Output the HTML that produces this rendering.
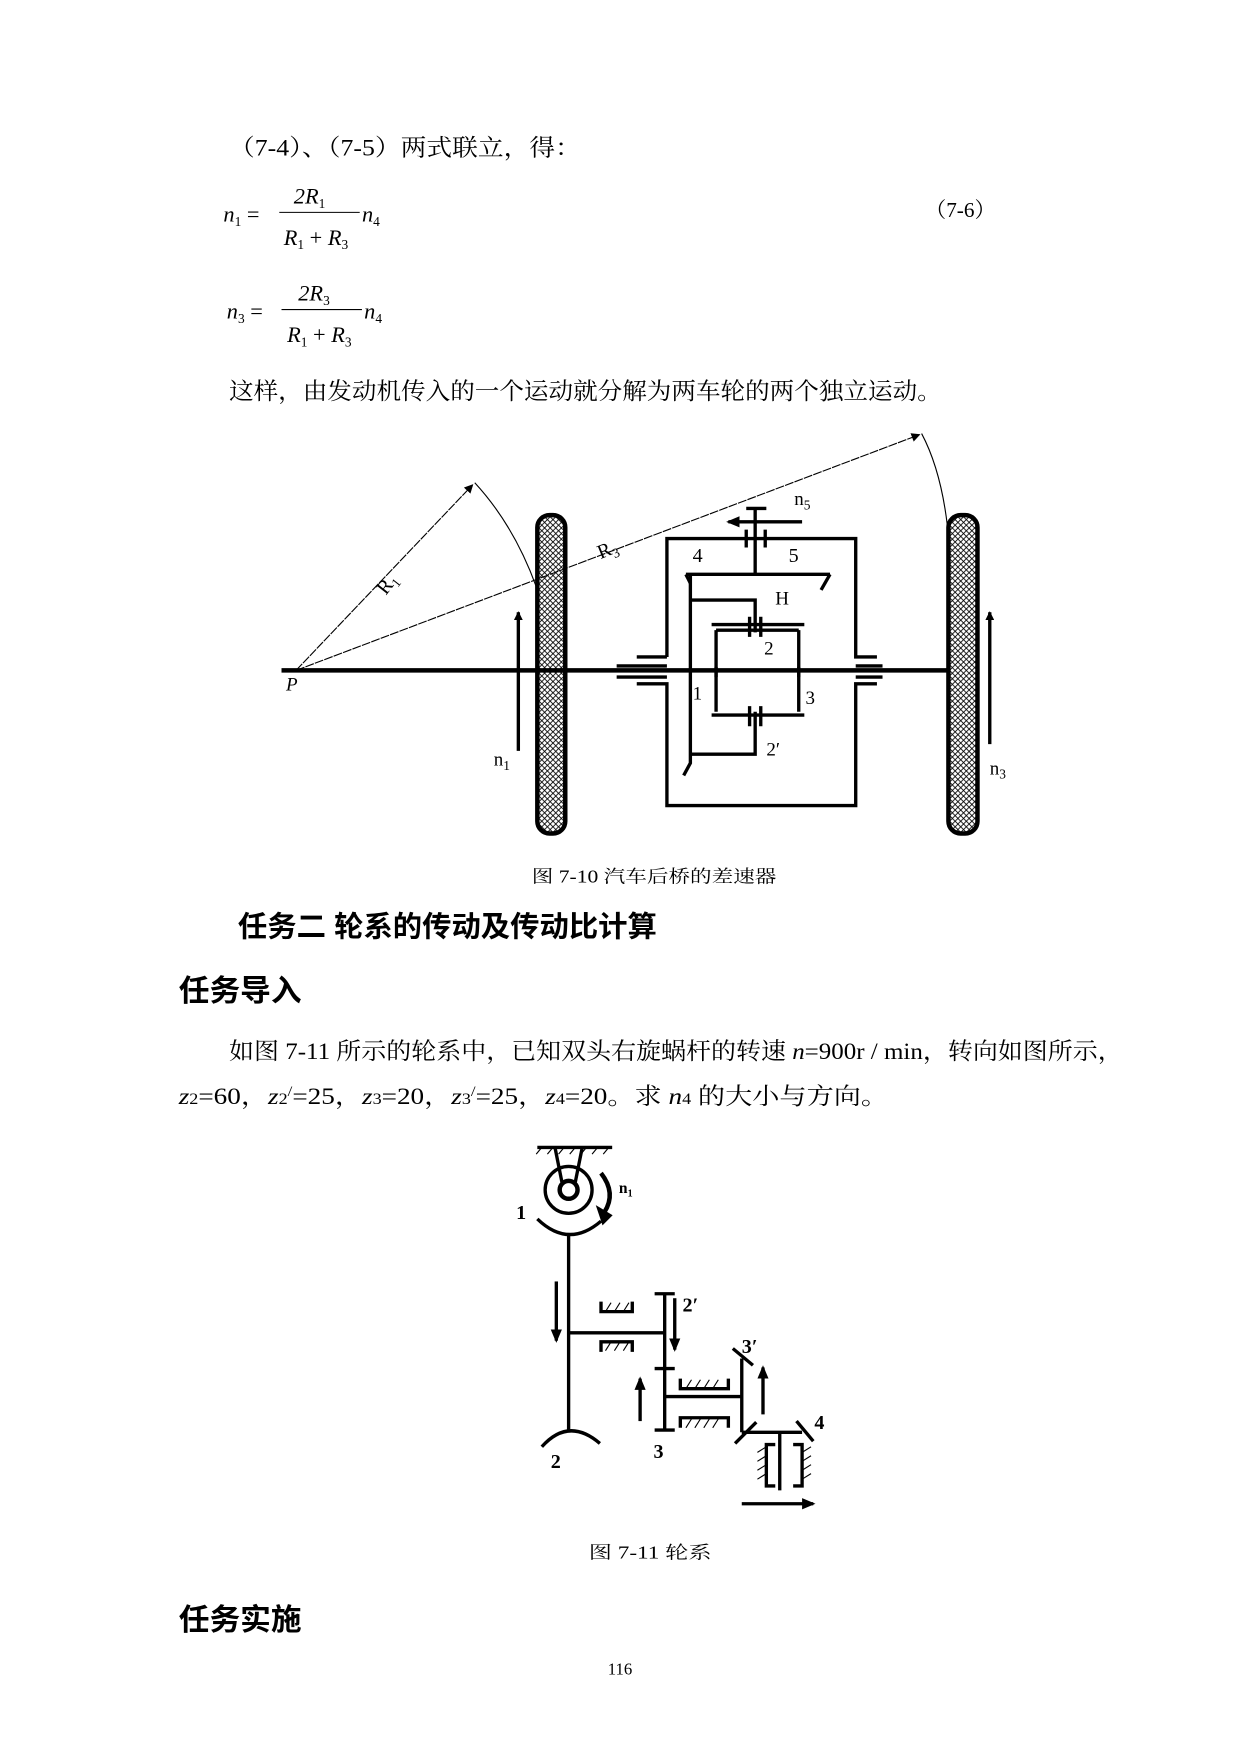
<!DOCTYPE html>
<html><head><meta charset="utf-8"><style>
html,body{margin:0;padding:0;background:#fff;}
svg{display:block;}
text{font-family:"Liberation Serif","Noto Serif CJK SC","Noto Sans CJK SC",serif;fill:#000;}
.h{font-family:"Liberation Sans","Noto Sans CJK SC",sans-serif;font-weight:bold;}
.s{font-family:"Liberation Sans","Noto Sans CJK SC",sans-serif;}
</style></head><body>
<svg width="1240" height="1753" viewBox="0 0 1110 1569" xmlns="http://www.w3.org/2000/svg">
<defs>
<pattern id="x" width="5" height="5" patternUnits="userSpaceOnUse">
<path d="M0 0L5 5M5 0L0 5" stroke="#000" stroke-width="0.8"/>
</pattern>
<marker id="a" markerWidth="8" markerHeight="8" refX="7" refY="4" orient="auto" markerUnits="userSpaceOnUse"><path d="M0 0L8 4L0 8z"/></marker>
<marker id="b" markerWidth="12" markerHeight="10" refX="10" refY="5" orient="auto" markerUnits="userSpaceOnUse"><path d="M0 0L12 5L0 10z"/></marker>
</defs>
<rect width="1110" height="1569" fill="#fff"/>

<text x="205" y="139" font-size="21" textLength="315" lengthAdjust="spacingAndGlyphs">（7-4）、（7-5）两式联立，得：</text>
<g font-size="20" font-style="italic">
<text x="200" y="198">n<tspan font-size="12" dy="4" font-style="normal">1</tspan><tspan dy="-4" font-style="normal"> =</tspan></text>
<text x="263" y="182">2R<tspan font-size="12" dy="4" font-style="normal">1</tspan></text>
<text x="254" y="219">R<tspan font-size="12" dy="4" font-style="normal">1</tspan><tspan dy="-4" font-style="normal"> + </tspan>R<tspan font-size="12" dy="4" font-style="normal">3</tspan></text>
<text x="324" y="198">n<tspan font-size="12" dy="4" font-style="normal">4</tspan></text>
<text x="203" y="285">n<tspan font-size="12" dy="4" font-style="normal">3</tspan><tspan dy="-4" font-style="normal"> =</tspan></text>
<text x="267" y="269">2R<tspan font-size="12" dy="4" font-style="normal">3</tspan></text>
<text x="257" y="306">R<tspan font-size="12" dy="4" font-style="normal">1</tspan><tspan dy="-4" font-style="normal"> + </tspan>R<tspan font-size="12" dy="4" font-style="normal">3</tspan></text>
<text x="326" y="285">n<tspan font-size="12" dy="4" font-style="normal">4</tspan></text>
</g>
<line x1="250" y1="190" x2="322" y2="190" stroke="#000" stroke-width="1"/>
<line x1="252" y1="277" x2="324" y2="277" stroke="#000" stroke-width="1"/>
<text x="828" y="194" font-size="19">（7-6）</text>
<text x="205" y="357" font-size="21" textLength="638" lengthAdjust="spacingAndGlyphs">这样，由发动机传入的一个运动就分解为两车轮的两个独立运动。</text>

<g stroke="#000" fill="none">
<line x1="265" y1="600" x2="423" y2="434" stroke-width="1" stroke-dasharray="8,1" marker-end="url(#a)"/>
<line x1="265" y1="600" x2="823" y2="389" stroke-width="1" stroke-dasharray="8,1" marker-end="url(#a)"/>
<path d="M425 432 Q460 470 480 525" stroke-width="1"/>
<path d="M825 388 Q842 420 848 470" stroke-width="1"/>
<line x1="252" y1="600" x2="850" y2="600" stroke-width="4"/>
<rect x="481" y="461" width="25" height="285" rx="11" fill="url(#x)" stroke-width="4"/>
<rect x="849" y="461" width="26" height="285" rx="11" fill="url(#x)" stroke-width="4"/>
<line x1="464" y1="672" x2="464" y2="548" stroke-width="3" marker-end="url(#a)"/>
<line x1="886" y1="666" x2="886" y2="548" stroke-width="3" marker-end="url(#a)"/>
<g stroke-width="3">
<polyline points="597,588 597,482 766,482 766,588 785,588"/>
<polyline points="570,588 597,588"/>
<polyline points="570,612 597,612 597,721 766,721 766,612 785,612"/>
<line x1="552" y1="596" x2="597" y2="596"/>
<line x1="552" y1="606" x2="597" y2="606"/>
<line x1="766" y1="596" x2="790" y2="596"/>
<line x1="766" y1="606" x2="790" y2="606"/>
<line x1="676" y1="455" x2="676" y2="515"/>
<line x1="668" y1="455" x2="686" y2="455"/>
<line x1="668" y1="474" x2="668" y2="490"/>
<line x1="685" y1="474" x2="685" y2="490"/>
<line x1="718" y1="467" x2="652" y2="467" marker-end="url(#b)"/>
<line x1="614" y1="514" x2="743" y2="514"/>
<line x1="614" y1="514" x2="618" y2="522"/>
<line x1="743" y1="514" x2="735" y2="528"/>
<polyline points="618,515 618,683 612,694"/>
<polyline points="618,537 676,537 676,566"/>
<polyline points="618,675 676,675 676,637"/>
<line x1="637" y1="559" x2="720" y2="559"/>
<line x1="641" y1="564" x2="715" y2="564"/>
<line x1="641" y1="564" x2="641" y2="637"/>
<line x1="715" y1="564" x2="715" y2="637"/>
<line x1="637" y1="640" x2="720" y2="640"/>
<line x1="671" y1="552" x2="671" y2="570"/><line x1="681" y1="552" x2="681" y2="570"/>
<line x1="671" y1="632" x2="671" y2="650"/><line x1="681" y1="632" x2="681" y2="650"/>
<line x1="641" y1="597" x2="641" y2="606"/><line x1="715" y1="597" x2="715" y2="606"/>
</g>
</g>
<g class="s">
<text x="336" y="530" font-size="18" transform="rotate(-52 344 522)" font-family="Liberation Mono">R<tspan font-size="12" dy="4">1</tspan></text>
<text x="535" y="497" font-size="18" transform="rotate(-22 545 492)" font-family="Liberation Mono">R<tspan font-size="12" dy="4">3</tspan></text>
<text x="256" y="618" font-size="17" font-style="italic">P</text>
<text x="711" y="452" font-size="17">n<tspan font-size="12" dy="4">5</tspan></text>
<text x="620" y="503" font-size="18">4</text>
<text x="706" y="503" font-size="18">5</text>
<text x="694" y="541" font-size="17">H</text>
<text x="684" y="586" font-size="17">2</text>
<text x="620" y="626" font-size="17">1</text>
<text x="721" y="630" font-size="17">3</text>
<text x="686" y="676" font-size="17">2′</text>
<text x="442" y="685" font-size="17">n<tspan font-size="12" dy="4">1</tspan></text>
<text x="886" y="693" font-size="17">n<tspan font-size="12" dy="4">3</tspan></text>
</g>
<text x="476" y="790" font-size="16" textLength="219" lengthAdjust="spacingAndGlyphs">图 7-10  汽车后桥的差速器</text>

<text x="213" y="838" font-size="26" class="h" textLength="375" lengthAdjust="spacingAndGlyphs">任务二  轮系的传动及传动比计算</text>
<text x="160" y="896" font-size="27" class="h" textLength="110" lengthAdjust="spacingAndGlyphs">任务导入</text>
<text x="205" y="948" font-size="21" textLength="800" lengthAdjust="spacingAndGlyphs">如图 7-11 所示的轮系中，已知双头右旋蜗杆的转速 <tspan font-style="italic">n</tspan>=900r / min，转向如图所示，</text>
<text x="160" y="988" font-size="21" textLength="635" lengthAdjust="spacingAndGlyphs"><tspan font-style="italic">z</tspan><tspan font-size="14">2</tspan>=60，<tspan font-style="italic">z</tspan><tspan font-size="14">2</tspan><tspan font-size="13" dy="-7">/</tspan><tspan dy="7">=25，</tspan><tspan font-style="italic">z</tspan><tspan font-size="14">3</tspan>=20，<tspan font-style="italic">z</tspan><tspan font-size="14">3</tspan><tspan font-size="13" dy="-7">/</tspan><tspan dy="7">=25，</tspan><tspan font-style="italic">z</tspan><tspan font-size="14">4</tspan>=20。求 <tspan font-style="italic">n</tspan><tspan font-size="14">4</tspan> 的大小与方向。</text>

<g stroke="#000" fill="none" stroke-width="3">
<line x1="481" y1="1027" x2="548" y2="1027"/>
<path d="M485 1027l-5 6M495 1027l-5 6M505 1027l-5 6M515 1027l-5 6M525 1027l-5 6M535 1027l-5 6M545 1027l-5 6" stroke-width="1"/>
<circle cx="509" cy="1065" r="21"/>
<circle cx="509" cy="1065" r="8" stroke-width="4"/>
<line x1="497" y1="1028" x2="503" y2="1058"/>
<line x1="521" y1="1028" x2="515" y2="1058"/>
<path d="M481 1091 Q509 1118 538 1093"/>
<path d="M538 1050 Q552 1068 541 1085" stroke-width="4"/>
<path d="M536 1082 L546 1088 L540 1094z" fill="#000"/>
<line x1="509" y1="1104" x2="509" y2="1281"/>
<path d="M485 1295 Q509 1268 537 1292"/>
<line x1="509" y1="1193" x2="595" y2="1193"/>
<line x1="595" y1="1158" x2="595" y2="1280"/>
<line x1="586" y1="1158" x2="604" y2="1158"/>
<line x1="586" y1="1225" x2="604" y2="1225"/>
<line x1="586" y1="1280" x2="604" y2="1280"/>
<polyline points="538,1165 538,1174 566,1174 566,1165"/>
<polyline points="538,1210 538,1201 566,1201 566,1210"/>
<line x1="594" y1="1250" x2="664" y2="1250"/>
<polyline points="609,1234 609,1243 652,1243 652,1234"/>
<polyline points="609,1278 609,1269 652,1269 652,1278"/>
<line x1="664" y1="1216" x2="664" y2="1282"/>
<line x1="656" y1="1207" x2="674" y2="1222"/>
<line x1="658" y1="1292" x2="677" y2="1273"/>
<line x1="664" y1="1282" x2="718" y2="1282"/>
<line x1="713" y1="1272" x2="728" y2="1290"/>
<line x1="698" y1="1282" x2="698" y2="1334"/>
<polyline points="694,1293 686,1293 686,1330 694,1330"/>
<polyline points="710,1293 718,1293 718,1330 710,1330"/>
<line x1="498" y1="1147" x2="498" y2="1200" marker-end="url(#b)"/>
<line x1="604" y1="1162" x2="604" y2="1208" marker-end="url(#b)"/>
<line x1="573" y1="1272" x2="573" y2="1234" marker-end="url(#b)"/>
<line x1="683" y1="1266" x2="683" y2="1224" marker-end="url(#b)"/>
<line x1="664" y1="1346" x2="728" y2="1346" marker-end="url(#b)"/>
</g>
<g stroke="#000" stroke-width="1" fill="none">
<path d="M542 1174l5 -8M550 1174l5 -8M558 1174l5 -8M542 1209l5 -8M550 1209l5 -8M558 1209l5 -8"/>
<path d="M614 1243l5 -8M622 1243l5 -8M630 1243l5 -8M638 1243l5 -8M614 1278l5 -8M622 1278l5 -8M630 1278l5 -8M638 1278l5 -8"/>
<path d="M678 1300l8 -5M678 1308l8 -5M678 1316l8 -5M678 1324l8 -5M718 1300l8 -5M718 1308l8 -5M718 1316l8 -5M718 1324l8 -5"/>
</g>
<g font-size="18" font-weight="bold" font-family="Liberation Serif">
<text x="462" y="1091">1</text>
<text x="554" y="1068" font-size="14">n<tspan font-size="9" dy="3">1</tspan></text>
<text x="493" y="1314">2</text>
<text x="611" y="1174">2′</text>
<text x="585" y="1305">3</text>
<text x="664" y="1211">3′</text>
<text x="729" y="1279">4</text>
</g>
<text x="527" y="1395" font-size="16" textLength="110" lengthAdjust="spacingAndGlyphs">图 7-11  轮系</text>
<text x="160" y="1459" font-size="27" class="h" textLength="110" lengthAdjust="spacingAndGlyphs">任务实施</text>
<text x="555" y="1499" font-size="15" text-anchor="middle">116</text>
</svg>
</body></html>
